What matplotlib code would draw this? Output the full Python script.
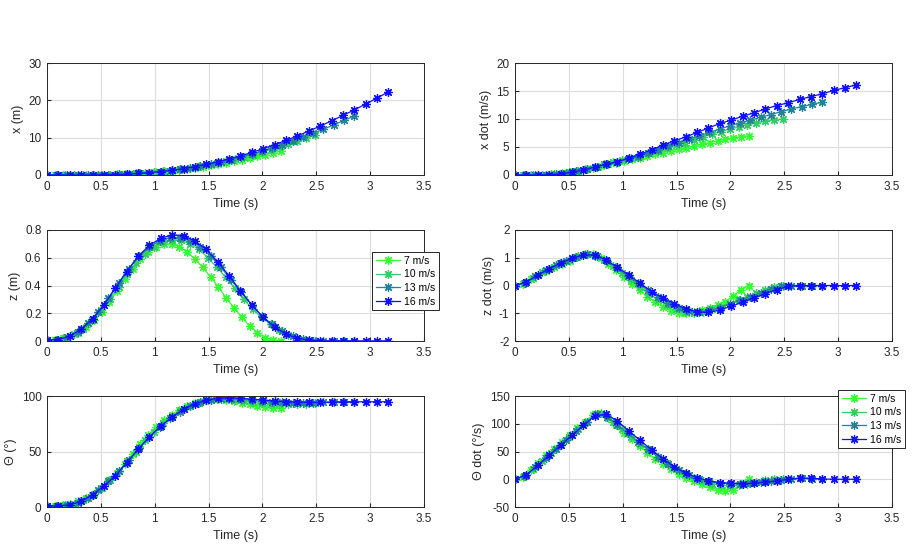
import numpy as np
import matplotlib
matplotlib.use("Agg")
import matplotlib.pyplot as plt

plt.rcParams['font.family'] = ['Liberation Sans', 'DejaVu Sans']

labels = ['7 m/s', '10 m/s', '13 m/s', '16 m/s']
colors = ['#33ff33', '#33cc66', '#1f8499', '#1010ff']
t_end = [2.17, 2.49, 2.85, 3.17]
n_pts = 31

x_7 = [0, 0, 0, 0, 0, 0.005, 0.02, 0.05, 0.09, 0.15, 0.23, 0.34, 0.47, 0.62, 0.79, 0.98,
       1.19, 1.42, 1.67, 1.95, 2.25, 2.57, 2.91, 3.28, 3.67, 4.08, 4.51, 4.96, 5.43, 5.92, 6.42]
x_10 = [0, 0, 0, 0, 0.005, 0.02, 0.05, 0.1, 0.18, 0.29, 0.43, 0.61, 0.82, 1.05, 1.32, 1.63,
        1.97, 2.35, 2.77, 3.23, 3.73, 4.27, 4.85, 5.47, 6.13, 6.82, 7.54, 8.29, 9.07, 9.87, 10.7]
x_13 = [0, 0, 0, 0, 0.01, 0.04, 0.09, 0.18, 0.30, 0.46, 0.66, 0.91, 1.20, 1.54, 1.94, 2.39,
        2.90, 3.48, 4.12, 4.81, 5.56, 6.37, 7.24, 8.15, 9.09, 10.1, 11.15, 12.25, 13.4, 14.6, 15.8]
x_16 = [0, 0, 0, 0, 0.01, 0.05, 0.12, 0.24, 0.41, 0.64, 0.93, 1.28, 1.72, 2.24, 2.84, 3.52,
        4.28, 5.12, 6.05, 7.05, 8.12, 9.26, 10.47, 11.77, 13.1, 14.5, 15.95, 17.45, 19.0, 20.6, 22.3]

xd_7 = [0, 0, 0, 0.02, 0.06, 0.15, 0.3, 0.5, 0.75, 1.0, 1.3, 1.6, 1.9, 2.2, 2.5, 2.8,
        3.1, 3.4, 3.7, 4.0, 4.3, 4.6, 4.9, 5.2, 5.5, 5.8, 6.1, 6.4, 6.6, 6.85, 7.0]
xd_10 = [0, 0, 0, 0.03, 0.1, 0.25, 0.5, 0.8, 1.1, 1.5, 1.9, 2.3, 2.6, 3.0, 3.4, 3.9,
         4.3, 4.8, 5.3, 5.8, 6.3, 6.8, 7.3, 7.7, 8.2, 8.6, 9.0, 9.3, 9.6, 9.8, 10.0]
xd_13 = [0, 0, 0, 0.05, 0.15, 0.4, 0.7, 1.1, 1.5, 1.9, 2.3, 2.8, 3.3, 3.9, 4.5, 5.1,
         5.7, 6.4, 7.0, 7.6, 8.2, 8.8, 9.3, 9.8, 10.3, 10.8, 11.3, 11.8, 12.2, 12.6, 13.0]
xd_16 = [0, 0, 0, 0.05, 0.2, 0.5, 0.9, 1.4, 1.9, 2.4, 3.0, 3.7, 4.5, 5.3, 6.1, 6.8,
         7.6, 8.4, 9.2, 9.8, 10.5, 11.1, 11.8, 12.4, 12.9, 13.5, 14.0, 14.5, 15.1, 15.6, 16.1]

z_7 = [0.01, 0.01, 0.02, 0.035, 0.06, 0.10, 0.15, 0.21, 0.28, 0.36, 0.45, 0.52, 0.59, 0.64,
       0.68, 0.70, 0.70, 0.68, 0.64, 0.59, 0.53, 0.46, 0.39, 0.31, 0.24, 0.17, 0.11, 0.06,
       0.025, 0.006, 0.003]
z_10 = [0.01, 0.01, 0.025, 0.05, 0.09, 0.15, 0.22, 0.30, 0.39, 0.48, 0.56, 0.63, 0.68, 0.715,
        0.73, 0.725, 0.70, 0.66, 0.60, 0.53, 0.46, 0.38, 0.30, 0.23, 0.17, 0.12, 0.08, 0.045,
        0.02, 0.006, 0.002]
z_13 = [0.01, 0.01, 0.03, 0.065, 0.13, 0.21, 0.31, 0.42, 0.52, 0.61, 0.68, 0.72, 0.745, 0.745,
        0.72, 0.68, 0.61, 0.53, 0.44, 0.35, 0.26, 0.18, 0.12, 0.07, 0.035, 0.012, 0.003, 0.001,
        0.001, 0.001, 0.001]
z_16 = [0.01, 0.01, 0.035, 0.085, 0.16, 0.26, 0.38, 0.50, 0.61, 0.69, 0.74, 0.765, 0.76, 0.72,
        0.66, 0.57, 0.47, 0.36, 0.26, 0.17, 0.10, 0.05, 0.02, 0.006, 0.002, 0.001, 0.001, 0.001,
        0.001, 0.001, 0.001]

zd_7 = [0, 0.06, 0.22, 0.38, 0.52, 0.65, 0.78, 0.90, 1.02, 1.12, 1.12, 0.98, 0.78, 0.55, 0.30,
        0.05, -0.18, -0.40, -0.60, -0.78, -0.92, -1.00, -1.00, -0.97, -0.90, -0.82, -0.70,
        -0.58, -0.38, -0.15, 0.0]
zd_10 = [0, 0.08, 0.28, 0.48, 0.64, 0.80, 0.93, 1.05, 1.13, 1.08, 0.92, 0.70, 0.45, 0.20,
         -0.05, -0.30, -0.52, -0.70, -0.85, -0.95, -0.98, -0.95, -0.86, -0.76, -0.65, -0.52,
         -0.40, -0.28, -0.16, -0.06, 0]
zd_13 = [0, 0.1, 0.33, 0.55, 0.73, 0.90, 1.03, 1.12, 1.08, 0.88, 0.62, 0.35, 0.08, -0.18,
         -0.42, -0.62, -0.80, -0.92, -0.95, -0.90, -0.80, -0.67, -0.53, -0.40, -0.27, -0.14,
         -0.03, 0, 0, 0, 0]
zd_16 = [0, 0.12, 0.38, 0.60, 0.80, 0.98, 1.10, 1.10, 0.92, 0.65, 0.38, 0.08, -0.22, -0.45,
         -0.65, -0.85, -0.95, -0.97, -0.88, -0.75, -0.60, -0.45, -0.30, -0.15, -0.03, 0, 0, 0,
         0, 0, 0]

th_7 = [1, 1, 1.5, 3, 5, 8, 12, 17, 24, 31, 39, 48, 57, 65, 72, 78, 83, 87, 91, 93.5, 95.5,
        96.5, 97, 96.5, 95.5, 94, 92.5, 91, 90, 89, 89]
th_10 = [1, 1, 2, 3, 6, 11, 17, 24, 32, 41, 50, 60, 68, 76, 82, 87, 91, 94, 96, 97, 97, 96.5,
         95.5, 94.5, 93.5, 93, 92.8, 92.8, 93, 93.2, 93.3]
th_13 = [1, 1, 2, 4, 8, 15, 23, 32, 42, 53, 63, 72, 80, 86, 91, 94.5, 96.5, 97.5, 97.5, 97,
         96, 95.2, 94.6, 94.2, 94, 93.9, 94, 94.2, 94.4, 94.5, 94.5]
th_16 = [1, 1, 2, 5, 11, 19, 28, 40, 52, 63, 73, 81, 88, 93, 96, 98, 98.5, 98, 97, 96.5, 95.5,
         95, 94.5, 94.3, 94.3, 94.5, 94.7, 94.8, 94.8, 94.8, 94.8]

thd_7 = [0, 4, 17, 30, 43, 55, 67, 79, 92, 104, 116, 120, 110, 97, 84, 72, 60, 48, 37, 27, 18,
         9, 2, -4, -9, -14, -19, -22, -20, -8, 1]
thd_10 = [0, 5, 18, 33, 48, 62, 76, 90, 104, 117, 117, 104, 90, 77, 64, 52, 40, 29, 19, 10, 3,
          -3, -8, -11, -12, -11, -8, -5, -2, 0, 1]
thd_13 = [0, 6, 22, 38, 55, 71, 87, 103, 117, 113, 98, 83, 68, 54, 40, 28, 17, 8, 1, -4, -7,
          -8, -8, -7, -5, -3, -1, 1, 1.5, 1, 0.5]
thd_16 = [0, 8, 25, 43, 61, 79, 97, 114, 117, 105, 87, 70, 53, 37, 22, 11, 3, -3, -6, -7, -8,
          -7, -5, -3, 0, 2, 2, 0.5, 0, 0, 0]

panels = [
    ([x_7, x_10, x_13, x_16], 'x (m)', (0, 30), [0, 10, 20, 30]),
    ([xd_7, xd_10, xd_13, xd_16], 'x dot (m/s)', (0, 20), [0, 5, 10, 15, 20]),
    ([z_7, z_10, z_13, z_16], 'z (m)', (0, 0.8), [0, 0.2, 0.4, 0.6, 0.8]),
    ([zd_7, zd_10, zd_13, zd_16], 'z dot (m/s)', (-2, 2), [-2, -1, 0, 1, 2]),
    ([th_7, th_10, th_13, th_16], '\u0398 (\u00b0)', (0, 100), [0, 50, 100]),
    ([thd_7, thd_10, thd_13, thd_16], '\u0398 dot (\u00b0/s)', (-50, 150), [-50, 0, 50, 100, 150]),
]

W, H = 913, 550
fig = plt.figure(figsize=(W / 100, H / 100), dpi=100)
col_left = [47 / W, 515 / W]
ax_w = 377 / W
rows = [(63, 175), (230, 341), (396, 507)]
axes = []
asterisk = (8, 2, 0)
for i, (data, ylab, ylim, yt) in enumerate(panels):
    r, c = divmod(i, 2)
    top, bot = rows[r]
    ax = fig.add_axes([col_left[c], 1 - bot / H, ax_w, (bot - top) / H])
    for k in range(4):
        t = np.linspace(0, t_end[k], n_pts)
        ax.plot(t, data[k], color=colors[k], marker=asterisk, markersize=6.2, mew=0.9,
                lw=0.9, label=labels[k])
    ax.set_xlim(0, 3.5)
    ax.set_xticks([0, 0.5, 1, 1.5, 2, 2.5, 3, 3.5])
    ax.set_xticklabels(['0', '0.5', '1', '1.5', '2', '2.5', '3', '3.5'])
    ax.set_ylim(*ylim)
    ax.set_yticks(yt)
    ax.set_yticklabels([('%g' % v) for v in yt])
    ax.grid(True, color='#dcdcdc', lw=0.8)
    ax.set_axisbelow(True)
    ax.tick_params(direction='in', length=3, labelsize=8.5, colors='#262626', pad=4)
    for s in ax.spines.values():
        s.set_color('#262626')
        s.set_linewidth(0.7)
    ax.set_xlabel('Time (s)', fontsize=9, color='#262626', labelpad=4)
    ax.set_ylabel(ylab, fontsize=9, color='#262626', labelpad=3)
    axes.append(ax)

for ax, (lx, ly) in [(axes[2], (372, 252)), (axes[5], (838, 390))]:
    leg = ax.legend(loc='upper left', bbox_to_anchor=(lx / W, 1 - ly / H),
                    bbox_transform=fig.transFigure, fontsize=7.5, frameon=True,
                    fancybox=False, edgecolor='#262626', framealpha=1,
                    handlelength=2.3, handletextpad=0.4, borderpad=0.35,
                    labelspacing=0.35, markerscale=1.0, borderaxespad=0)
    leg.get_frame().set_linewidth(0.7)

fig.savefig('out.png', dpi=100)
